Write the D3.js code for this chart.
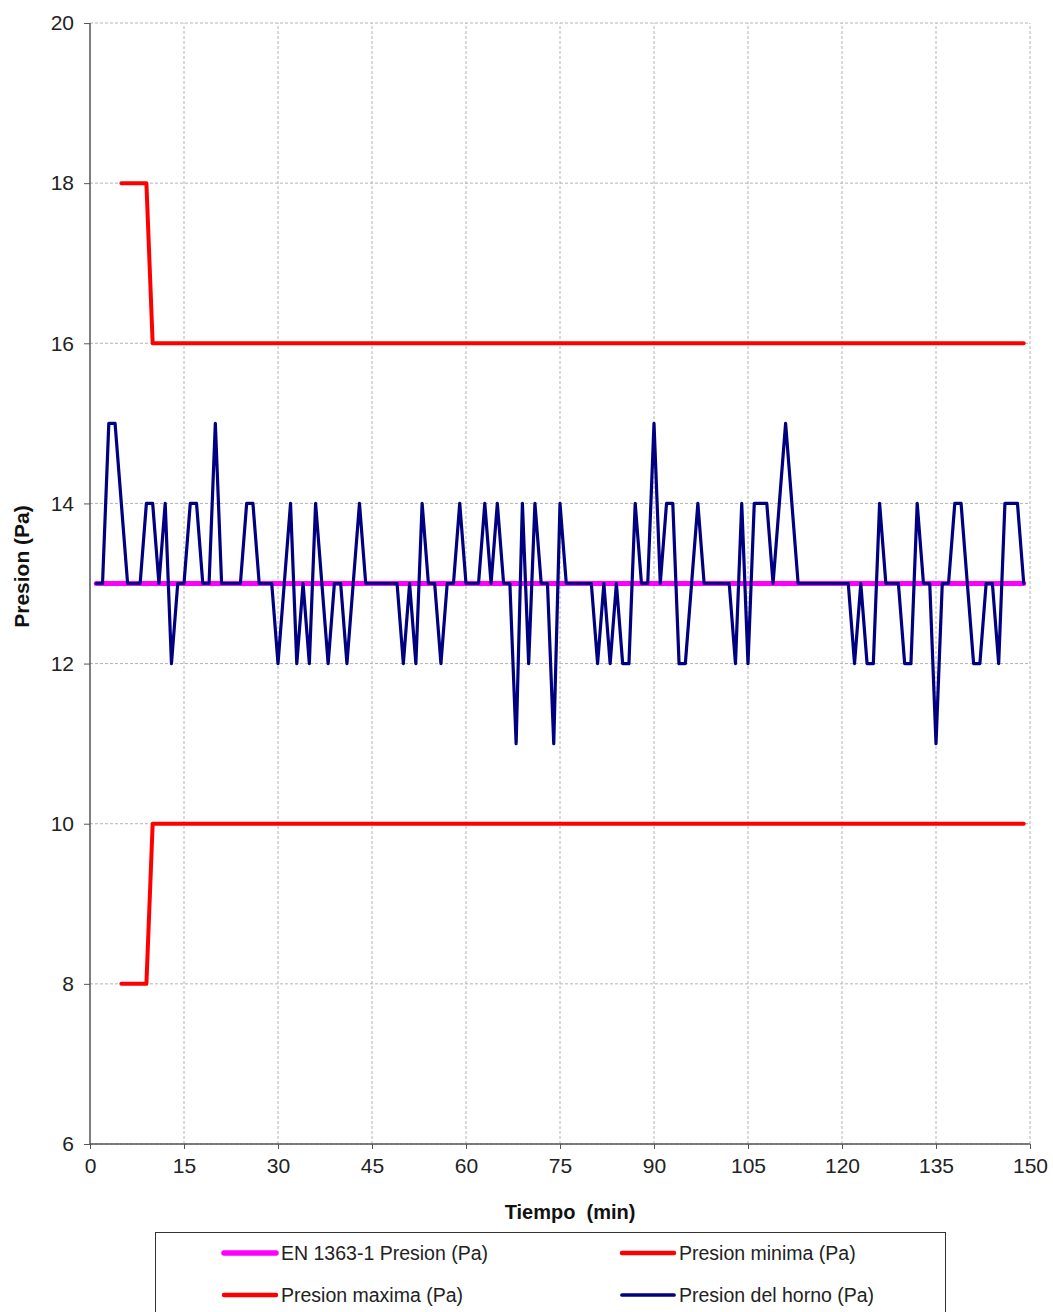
<!DOCTYPE html>
<html>
<head>
<meta charset="utf-8">
<script src="https://cdn.jsdelivr.net/npm/d3@7"></script>
<style>
  body { margin: 0; background: #fff; }
  svg { font-family: "Liberation Sans", Arial, sans-serif; }
</style>
</head>
<body>
<div id="chart"></div>
<script>
// Data
const hornoTime = d3.range(1, 150);
const hornoValues = [
  13, 13, 15, 15, 14, 13, 13, 13, 14, 14,
  13, 14, 12, 13, 13, 14, 14, 13, 13, 15,
  13, 13, 13, 13, 14, 14, 13, 13, 13, 12,
  13, 14, 12, 13, 12, 14, 13, 12, 13, 13,
  12, 13, 14, 13, 13, 13, 13, 13, 13, 12,
  13, 12, 14, 13, 13, 12, 13, 13, 14, 13,
  13, 13, 14, 13, 14, 13, 13, 11, 14, 12,
  14, 13, 13, 11, 14, 13, 13, 13, 13, 13,
  12, 13, 12, 13, 12, 12, 14, 13, 13, 15,
  13, 14, 14, 12, 12, 13, 14, 13, 13, 13,
  13, 13, 12, 14, 12, 14, 14, 14, 13, 14,
  15, 14, 13, 13, 13, 13, 13, 13, 13, 13,
  13, 12, 13, 12, 12, 14, 13, 13, 13, 12,
  12, 14, 13, 13, 11, 13, 13, 14, 14, 13,
  12, 12, 13, 13, 12, 14, 14, 14, 13
];
const enTime = [1, 149];
const enValues = [13, 13];
const limitTime = [5, 9, 10, 149];
const maxValues = [18, 18, 16, 16];
const minValues = [8, 8, 10, 10];
const xTicks = [0, 15, 30, 45, 60, 75, 90, 105, 120, 135, 150];
const yTicks = [6, 8, 10, 12, 14, 16, 18, 20];

const series = [
  { name: "EN 1363-1 Presion (Pa)", t: enTime, v: enValues, color: "#ff00ff", width: 5 },
  { name: "Presion minima (Pa)", t: limitTime, v: minValues, color: "#ff0000", width: 4 },
  { name: "Presion maxima (Pa)", t: limitTime, v: maxValues, color: "#ff0000", width: 4 },
  { name: "Presion del horno (Pa)", t: hornoTime, v: hornoValues, color: "#000080", width: 3.2 }
];

const width = 1053, height = 1312;
const margin = { left: 90, right: 23, top: 23, bottom: 168 };

const svg = d3.select("#chart").append("svg")
  .attr("width", width)
  .attr("height", height);

const x = d3.scaleLinear().domain([0, 150]).range([margin.left, width - margin.right]);
const y = d3.scaleLinear().domain([6, 20]).range([height - margin.bottom, margin.top]);

// grid
svg.append("g")
  .selectAll("line.hg")
  .data(yTicks)
  .enter().append("line")
  .attr("x1", x(0)).attr("x2", x(150))
  .attr("y1", d => y(d)).attr("y2", d => y(d))
  .style("stroke", "#b4b4b4").style("stroke-width", 1).style("stroke-dasharray", "3,2");
svg.append("g")
  .selectAll("line.vg")
  .data(xTicks.slice(1))
  .enter().append("line")
  .attr("x1", d => x(d)).attr("x2", d => x(d))
  .attr("y1", y(6)).attr("y2", y(20))
  .style("stroke", "#b4b4b4").style("stroke-width", 1).style("stroke-dasharray", "3,2");

// axes
const xAxis = svg.append("g")
  .attr("transform", `translate(0,${y(6)})`)
  .call(d3.axisBottom(x).tickValues(xTicks).tickSize(5).tickPadding(9));
const yAxis = svg.append("g")
  .attr("transform", `translate(${x(0)},0)`)
  .call(d3.axisLeft(y).tickValues(yTicks).tickSize(6).tickPadding(10));
[xAxis, yAxis].forEach(a => {
  a.selectAll(".tick line").style("stroke", "#555");
  a.selectAll(".tick text").style("font-size", "21px").style("fill", "#222")
    .style("font-family", "'Liberation Sans', Arial, sans-serif");
});
xAxis.select(".domain").attr("d", `M${x(0)},0H${x(150)}`)
  .style("stroke", "#555").style("stroke-width", 1.5);
yAxis.select(".domain").attr("d", `M0,${y(6)}V${y(20)}`)
  .style("stroke", "#555").style("stroke-width", 1.5);

// axis titles
svg.append("text")
  .attr("x", 570).attr("y", 1219)
  .attr("text-anchor", "middle")
  .attr("xml:space", "preserve")
  .style("white-space", "pre")
  .style("font-size", "20px").style("font-weight", "bold").style("fill", "#111")
  .text("Tiempo  (min)");
svg.append("text")
  .attr("transform", `translate(29,${y(13) - 17}) rotate(-90)`)
  .attr("text-anchor", "middle")
  .style("font-size", "21px").style("font-weight", "bold").style("fill", "#111")
  .text("Presion (Pa)");

// lines
const line = d3.line()
  .x(d => x(d[0]))
  .y(d => y(d[1]));

series.forEach(s => {
  svg.append("path")
    .datum(s.t.map((t, i) => [t, s.v[i]]))
    .attr("d", line)
    .style("fill", "none")
    .style("stroke", s.color)
    .style("stroke-width", s.width)
    .style("stroke-linejoin", "round")
    .style("stroke-linecap", "round");
});

// legend
const legend = svg.append("g");
legend.append("rect")
  .attr("x", 155.5).attr("y", 1232.5)
  .attr("width", 790).attr("height", 100)
  .style("fill", "#fff").style("stroke", "#333").style("stroke-width", 1);

const legendPos = [
  { x: 222, y: 1253 },
  { x: 620, y: 1253 },
  { x: 222, y: 1295 },
  { x: 620, y: 1295 }
];
series.forEach((s, i) => {
  const p = legendPos[i];
  legend.append("line")
    .attr("x1", p.x + 2).attr("x2", p.x + 54)
    .attr("y1", p.y).attr("y2", p.y)
    .style("stroke", s.color).style("stroke-width", s.width + 0.5)
    .style("stroke-linecap", "round");
  legend.append("text")
    .attr("x", p.x + 59).attr("y", p.y)
    .attr("dy", "0.35em")
    .style("font-size", "19.5px").style("fill", "#222")
    .text(s.name);
});
</script>
</body>
</html>
